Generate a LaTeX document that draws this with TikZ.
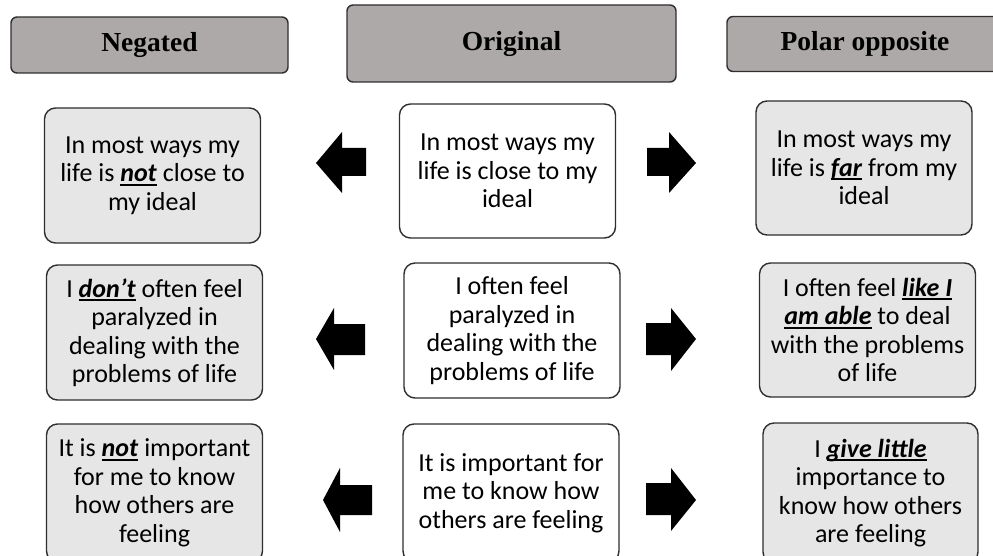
\documentclass[tikz,border=0pt]{standalone}
\usepackage{fontspec}
\setmainfont{Carlito}
\newfontfamily\headfont{Liberation Serif}
% bold italic keyword with a heavy rule just under the baseline
\newcommand{\keyw}[1]{\setbox0\hbox{\textbf{\textit{#1}}}\rlap{\rule[-3.8pt]{\wd0}{1.8pt}}\box0\relax}
\definecolor{headgray}{HTML}{ADA9A8}
\definecolor{sidegray}{HTML}{E6E6E6}
\definecolor{edgegray}{HTML}{2E2E2E}
\tikzset{
  header/.style={draw=edgegray, line width=1.4pt, fill=headgray, rounded corners=6pt,
    font=\headfont\bfseries\fontsize{27.5}{30}\selectfont, inner sep=0pt},
  item/.style={draw=edgegray, line width=1.4pt, rounded corners=11pt, inner sep=0pt,
    align=center, font=\fontsize{26}{28.5}\selectfont,
    minimum width=216pt, minimum height=134pt},
  side/.style={item, fill=sidegray},
  orig/.style={item, fill=white},
  blockarrow/.style={fill=black}
}
\begin{document}
\begin{tikzpicture}[x=1pt,y=-1pt]
\useasboundingbox (0,0) rectangle (993,556);
\clip (0,0) rectangle (993,556);

% column headers
\node[header, minimum width=277pt, minimum height=56pt] (hneg) at (149.5,45) {Negated};
\node[header, minimum width=329pt, minimum height=77pt] (horig) at (511.5,43.5) {Original};
\node[header, minimum width=276pt, minimum height=55pt] (hpol) at (865,44) {Polar opposite};

% row 1
\node[side, minimum height=135pt] (n1) at (152.5,175.5) {In most ways my\\life is \keyw{not} close to\\my ideal};
\node[orig] (o1) at (507.5,171) {In most ways my\\life is close to my\\ideal};
\node[side] (p1) at (864,168) {In most ways my\\life is \keyw{far} from my\\ideal};

% row 2
\node[side, minimum height=135pt] (n2) at (154.5,332.5) {I \keyw{don’t} often feel\\paralyzed in\\dealing with the\\problems of life};
\node[orig, minimum height=135pt] (o2) at (512,330.5) {I often feel\\paralyzed in\\dealing with the\\problems of life};
\node[side] (p2) at (867.5,330) {I often feel \keyw{like I}\\\keyw{am able} to deal\\with the problems\\of life};

% row 3 (boxes run past the lower edge)
\node[side, minimum height=138pt] (n3) at (154.5,493) {It is \keyw{not} important\\for me to know\\how others are\\feeling};
\node[orig, minimum height=138pt] (o3) at (511,493) {It is important for\\me to know how\\others are feeling};
\node[side, minimum height=140pt, minimum width=215pt] (p3) at (870.5,493) {I \keyw{give little}\\importance to\\know how others\\are feeling};

% block arrows pointing to the negated column
\fill[blockarrow] (316,163) -- (342,132) -- (342,148) -- (366,148) -- (366,176) -- (342,176) -- (342,193) -- cycle;
\fill[blockarrow] (316,339) -- (334,308) -- (334,324) -- (365,324) -- (365,355) -- (334,355) -- (334,370) -- cycle;
\fill[blockarrow] (323,500) -- (340,468) -- (340,485) -- (372,485) -- (372,515) -- (340,515) -- (340,532) -- cycle;

% block arrows pointing to the polar-opposite column
\fill[blockarrow] (696,163) -- (669,132) -- (669,148) -- (647,148) -- (647,176) -- (669,176) -- (669,193) -- cycle;
\fill[blockarrow] (696,339) -- (671,308) -- (671,323) -- (646,323) -- (646,355) -- (671,355) -- (671,371) -- cycle;
\fill[blockarrow] (696,500) -- (671,468) -- (671,483) -- (646,483) -- (646,515) -- (671,515) -- (671,531) -- cycle;
\end{tikzpicture}
\end{document}
